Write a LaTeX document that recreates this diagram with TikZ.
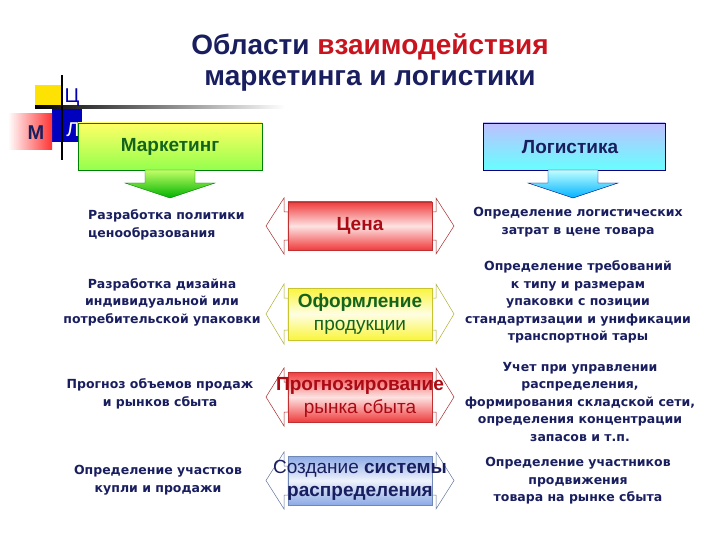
\documentclass[tikz,border=0pt]{standalone}
\usepackage{fontspec}
\setmainfont{DejaVu Sans}
\newfontfamily\arial{Liberation Sans}
\usetikzlibrary{shapes.arrows,calc}
\definecolor{navy}{RGB}{25,30,95}
\definecolor{tred}{RGB}{200,20,30}
\definecolor{dgreen}{RGB}{20,100,30}
\definecolor{dred}{RGB}{170,10,20}
\definecolor{cred}{RGB}{240,60,60}
\definecolor{cyel}{RGB}{250,245,60}
\definecolor{cblu}{RGB}{140,170,230}
\tikzset{
 txt/.style={font=\bfseries\fontsize{12.5}{17.5}\selectfont, text=navy, align=center, inner sep=0},
 mid/.style={font=\arial\fontsize{19}{23}\selectfont, align=center, inner sep=0},
}
\newcommand{\dblarrow}[4]{% ytop, ybot, color, name
 \path[draw=#3!70!black, line width=0.5pt, fill=white]
   (266,{(#1+#2)/2}) -- (284,#1-4) -- (284,#1+10) -- (288,#1+10) -- (288,#2-10) -- (284,#2-10) -- (284,#2+4) -- cycle;
 \path[draw=#3!70!black, line width=0.5pt, fill=white]
   (454,{(#1+#2)/2}) -- (436,#1-4) -- (436,#1+10) -- (432,#1+10) -- (432,#2-10) -- (436,#2-10) -- (436,#2+4) -- cycle;
 \shade[top color=#3, bottom color=#3, middle color=#3!15, draw=#3!80!black, line width=0.4pt] (288,#1) rectangle (432,#2);
 \coordinate (#4) at (360,{(#1+#2)/2});
}
\begin{document}
\begin{tikzpicture}[x=1pt,y=-1pt]
\useasboundingbox (0,0) rectangle (720,540);
% title
\node[font=\arial\bfseries\fontsize{28}{31}\selectfont, text=navy, align=center] (title) at (370,62)
 {Области \textcolor{tred}{взаимодействия}\\маркетинга и логистики};
% logo
\fill[yellow!85!orange] (35,85) rectangle (63,108);
\fill[blue!75!black] (52,108) rectangle (82,142);
\shade[left color=white, right color=red!80] (8,114) rectangle (52,150);
\shade[left color=black, right color=white] (35,106) rectangle (285,109);
\draw[line width=1.2pt] (62,75) -- (62,160);
\node[font=\arial\bfseries\fontsize{20}{20}\selectfont, text=navy] (m) at (36,133) {М};
\node[font=\arial\fontsize{20}{20}\selectfont, text=blue!70!black] (c) at (72,98) {Ц};
\node[font=\arial\fontsize{20}{20}\selectfont, text=white] (l) at (73,130) {Л};
% marketing box
\shade[top color=yellow!60, bottom color=green!60!yellow!70, draw=green!50!black, line width=0.4pt] (78,123) rectangle (262,170);
\node[font=\arial\bfseries\fontsize{19}{19}\selectfont, text=dgreen] (mk) at (170,147) {Маркетинг};
\shade[top color=green!40!yellow!60, bottom color=green!70!black, draw=green!50!black, line width=0.4pt]
 (145,170) -- (195,170) -- (195,183) -- (215,183) -- (170,198) -- (125,183) -- (145,183) -- cycle;
% logistics box
\shade[top color=blue!25, bottom color=cyan!60, draw=blue!50!black, line width=0.4pt] (483,123) rectangle (665,170);
\node[font=\arial\bfseries\fontsize{19}{19}\selectfont, text=navy] (lg) at (570,147) {Логистика};
\shade[top color=cyan!25, bottom color=cyan!70!blue, draw=blue!50!black, line width=0.4pt]
 (548,170) -- (598,170) -- (598,183) -- (618,183) -- (573,198) -- (528,183) -- (548,183) -- cycle;
% middle arrows
\dblarrow{202}{250}{cred}{r1}
\dblarrow{288}{340}{cyel}{r2}
\dblarrow{372}{422}{cred}{r3}
\dblarrow{456}{505}{cblu}{r4}
\node[mid, font=\arial\bfseries\fontsize{19}{23}\selectfont, text=dred] at (r1) {Цена};
\node[mid, text=dgreen] at (r2) {\textbf{Оформление}\\продукции};
\node[mid, text=dred] at (r3) {\textbf{Прогнозирование}\\рынка сбыта};
\node[mid, text=navy] at (r4) {Создание \textbf{системы}\\\textbf{распределения}};
% left texts
\node[txt, align=left, anchor=west] (a1) at (88,225) {Разработка политики\\ценообразования};
\node[txt] (a2) at (162,302) {Разработка дизайна\\индивидуальной или\\потребительской упаковки};
\node[txt] (a3) at (160,394) {Прогноз объемов продаж\\и рынков сбыта};
\node[txt] (a4) at (158,480) {Определение участков\\купли и продажи};
% right texts
\node[txt] (b1) at (578,222) {Определение логистических\\затрат в цене товара};
\node[txt] (b2) at (578,302) {Определение требований\\к типу и размерам\\упаковки с позиции\\стандартизации и унификации\\транспортной тары};
\node[txt] (b3) at (580,402) {Учет при управлении\\распределения,\\формирования складской сети,\\определения концентрации\\запасов и т.п.};
\node[txt] (b4) at (578,481) {Определение участников\\продвижения\\товара на рынке сбыта};
\end{tikzpicture}
\end{document}
